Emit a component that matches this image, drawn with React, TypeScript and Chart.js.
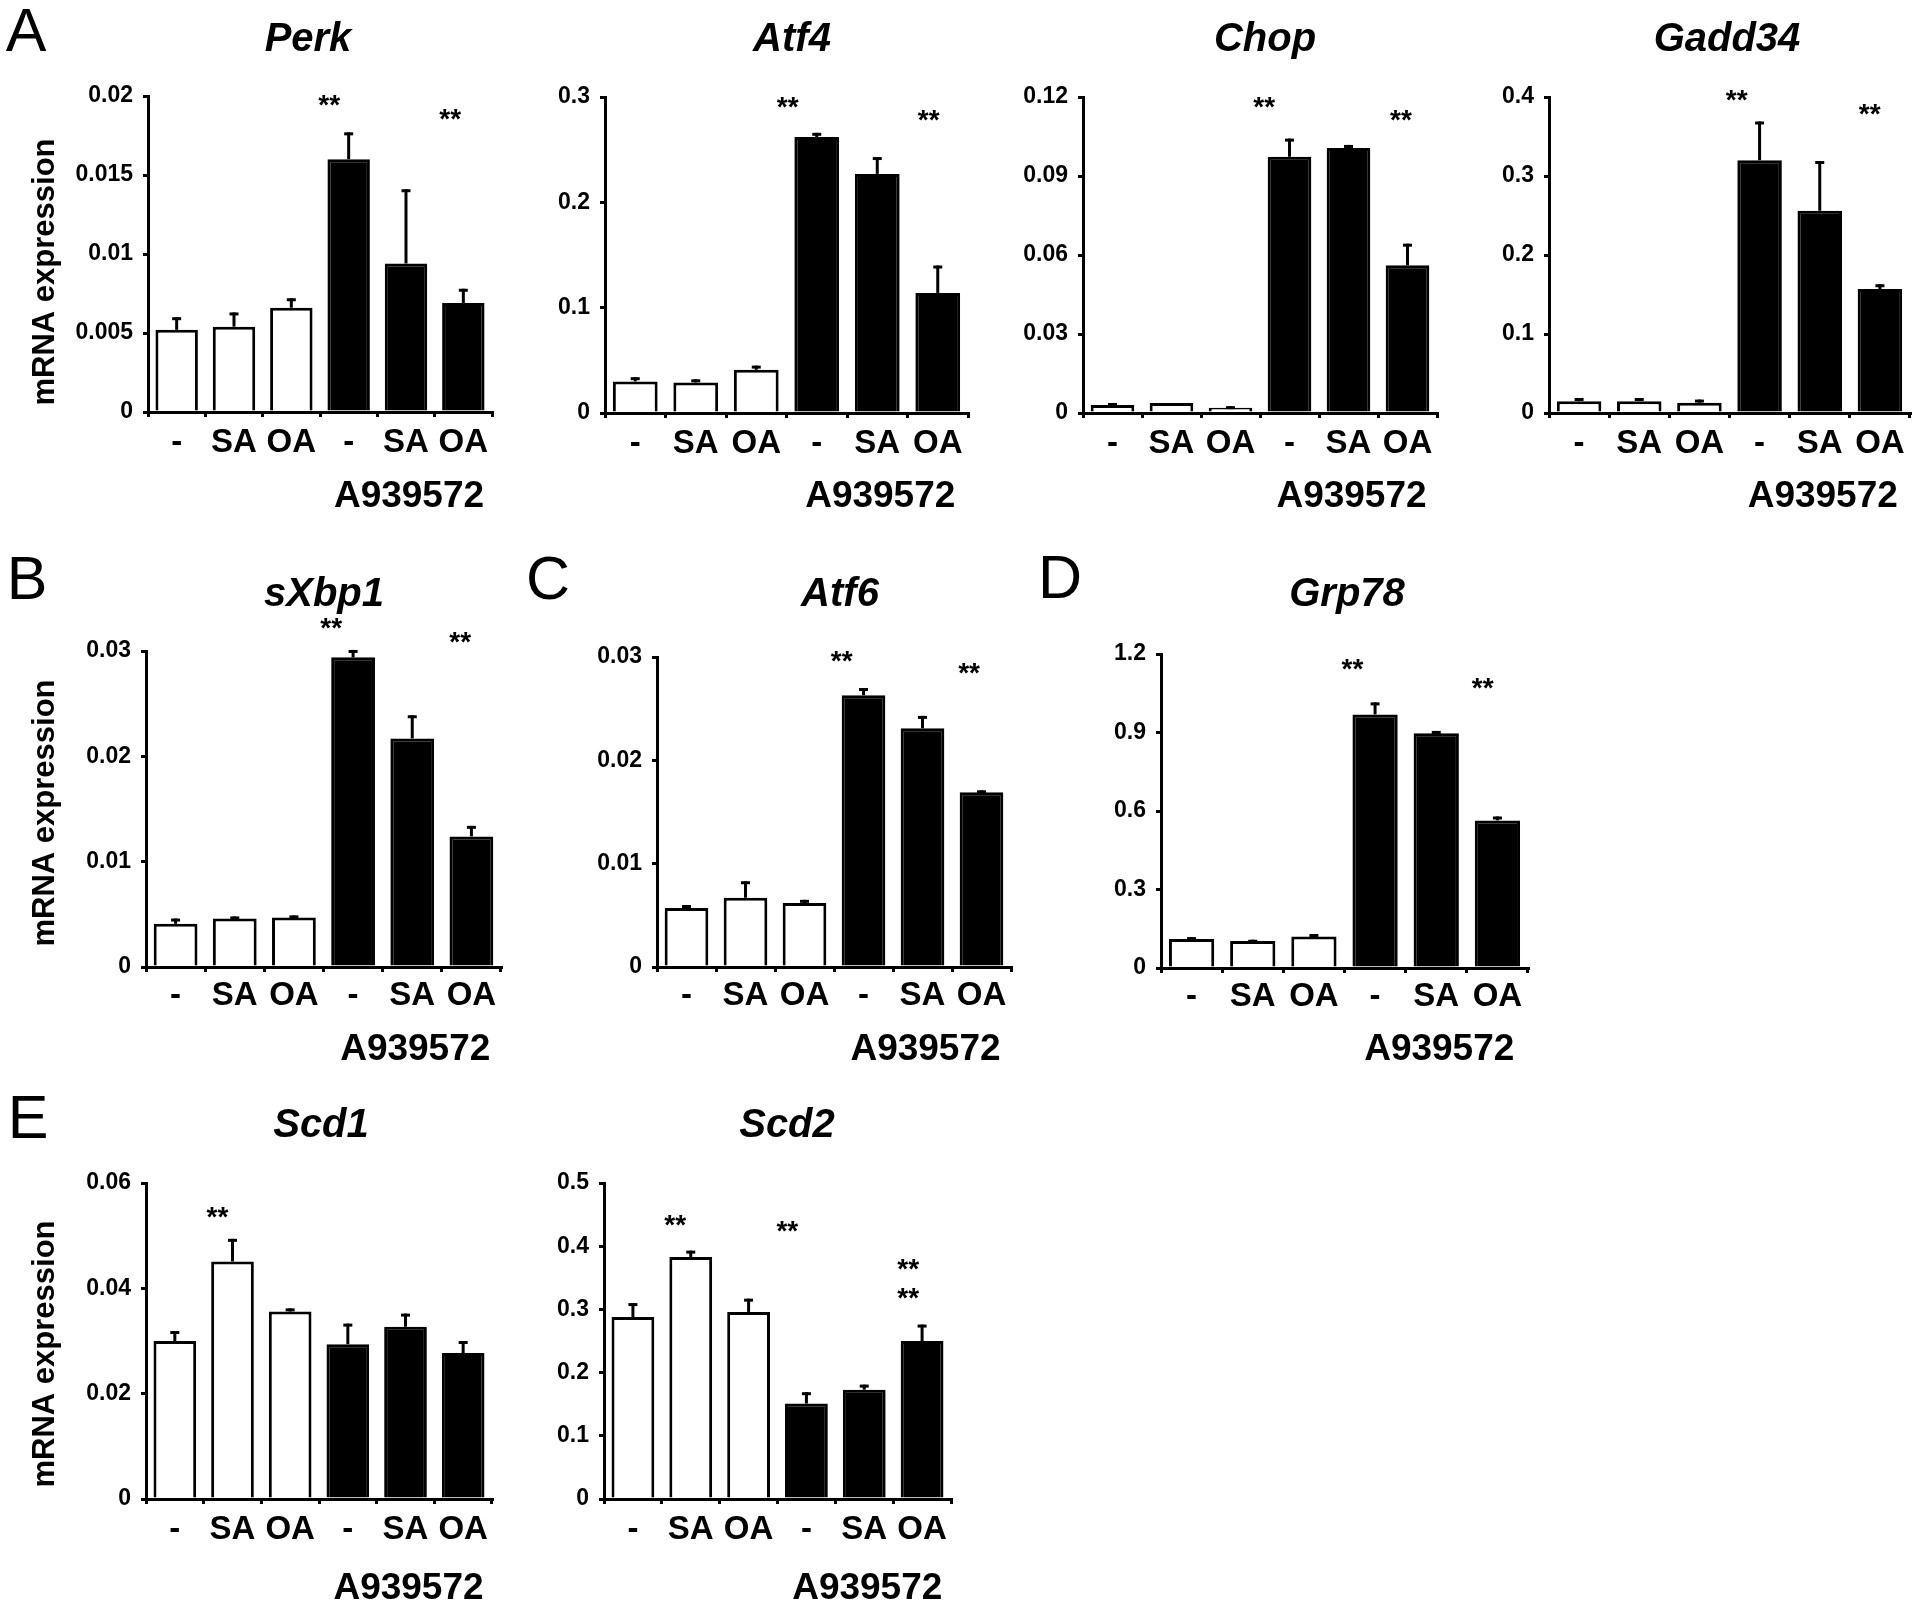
import React, { useEffect, useRef } from "react";
import { Chart, registerables } from "chart.js";
Chart.register(...registerables);

const FONT = '"Liberation Sans", Arial, Helvetica, sans-serif';

// ---------- shared categories ----------
const categories = ["-", "SA", "OA", "-", "SA", "OA"];
const groupLabel = "A939572";
const yAxisTitle = "mRNA expression";
const barColors = ["#ffffff", "#ffffff", "#ffffff", "#000000", "#000000", "#000000"];

// ---------- data (mean, SEM, tick labels, significance marks [category position, value]) ----------
const perkMean = [0.0052, 0.0054, 0.0066, 0.016, 0.0094, 0.0069];
const perkSem = [0.0008, 0.0009, 0.0006, 0.0017, 0.0047, 0.0009];
const perkTicks = ["0", "0.005", "0.01", "0.015", "0.02"];
const perkStars = [[2.66, 0.0199], [4.77, 0.019]];

const atf4Mean = [0.03, 0.029, 0.041, 0.262, 0.227, 0.114];
const atf4Sem = [0.004, 0.003, 0.004, 0.004, 0.016, 0.026];
const atf4Ticks = ["0", "0.1", "0.2", "0.3"];
const atf4Stars = [[2.52, 0.297], [4.85, 0.285]];

const chopMean = [0.003, 0.0038, 0.002, 0.0973, 0.1006, 0.0561];
const chopSem = [0.0008, 0, 0.0006, 0.0069, 0.0012, 0.0082];
const chopTicks = ["0", "0.03", "0.06", "0.09", "0.12"];
const chopStars = [[2.57, 0.119], [4.89, 0.114]];

const gadd34Mean = [0.015, 0.015, 0.013, 0.32, 0.256, 0.157];
const gadd34Sem = [0.004, 0.004, 0.004, 0.049, 0.063, 0.006];
const gadd34Ticks = ["0", "0.1", "0.2", "0.3", "0.4"];
const gadd34Stars = [[2.62, 0.405], [4.83, 0.388]];

const sxbp1Mean = [0.0041, 0.0046, 0.0047, 0.0294, 0.0217, 0.0124];
const sxbp1Sem = [0.0005, 0.0002, 0.0002, 0.0007, 0.0022, 0.001];
const sxbp1Ticks = ["0", "0.01", "0.02", "0.03"];
const sxbp1Stars = [[2.63, 0.0329], [4.81, 0.0315]];

const atf6Mean = [0.0057, 0.0067, 0.0062, 0.0263, 0.0231, 0.0169];
const atf6Sem = [0.0003, 0.0016, 0.0003, 0.0007, 0.0012, 0.0002];
const atf6Ticks = ["0", "0.01", "0.02", "0.03"];
const atf6Stars = [[2.63, 0.0303], [4.79, 0.0291]];

const grp78Mean = [0.111, 0.103, 0.12, 0.969, 0.897, 0.564];
const grp78Sem = [0.007, 0.005, 0.01, 0.046, 0.009, 0.015];
const grp78Ticks = ["0", "0.3", "0.6", "0.9", "1.2"];
const grp78Stars = [[2.63, 1.17], [4.76, 1.096]];

const scd1Mean = [0.03, 0.0451, 0.0356, 0.0294, 0.0327, 0.0277];
const scd1Sem = [0.0019, 0.0043, 0.0006, 0.0039, 0.0025, 0.0023];
const scd1Ticks = ["0", "0.02", "0.04", "0.06"];
const scd1Stars = [[0.74, 0.0549]];

const scd2Mean = [0.288, 0.383, 0.296, 0.151, 0.173, 0.25];
const scd2Sem = [0.022, 0.01, 0.021, 0.018, 0.008, 0.026];
const scd2Ticks = ["0", "0.1", "0.2", "0.3", "0.4", "0.5"];
const scd2Stars = [[0.73, 0.444], [2.67, 0.436], [4.76, 0.3755], [4.76, 0.33]];

// ---------- layout (page pixels) ----------
type Box = {
  L: number; R: number; T: number; B: number;
  titleX: number; titleY: number; groupY: number; tickPad: number; ylabelY?: number;
};

const panels = [
  { title: "Perk", mean: perkMean, sem: perkSem, ticks: perkTicks, stars: perkStars,
    box: { L: 148, R: 492, T: 96, B: 412, titleX: 308, titleY: 37, groupY: 494, tickPad: 6, ylabelY: 272 } },
  { title: "Atf4", mean: atf4Mean, sem: atf4Sem, ticks: atf4Ticks, stars: atf4Stars,
    box: { L: 605, R: 968, T: 97, B: 413, titleX: 792, titleY: 37, groupY: 494, tickPad: 6 } },
  { title: "Chop", mean: chopMean, sem: chopSem, ticks: chopTicks, stars: chopStars,
    box: { L: 1083, R: 1437, T: 97, B: 413, titleX: 1265, titleY: 37, groupY: 494, tickPad: 6 } },
  { title: "Gadd34", mean: gadd34Mean, sem: gadd34Sem, ticks: gadd34Ticks, stars: gadd34Stars,
    box: { L: 1549, R: 1910, T: 97, B: 413, titleX: 1727, titleY: 37, groupY: 494, tickPad: 6 } },
  { title: "sXbp1", mean: sxbp1Mean, sem: sxbp1Sem, ticks: sxbp1Ticks, stars: sxbp1Stars,
    box: { L: 146, R: 501, T: 651, B: 967, titleX: 324, titleY: 592, groupY: 1047, tickPad: 4, ylabelY: 813 } },
  { title: "Atf6", mean: atf6Mean, sem: atf6Sem, ticks: atf6Ticks, stars: atf6Stars,
    box: { L: 657, R: 1011, T: 657, B: 967, titleX: 840, titleY: 592, groupY: 1047, tickPad: 4 } },
  { title: "Grp78", mean: grp78Mean, sem: grp78Sem, ticks: grp78Ticks, stars: grp78Stars,
    box: { L: 1161, R: 1528, T: 654, B: 968, titleX: 1347, titleY: 592, groupY: 1047, tickPad: 4 } },
  { title: "Scd1", mean: scd1Mean, sem: scd1Sem, ticks: scd1Ticks, stars: scd1Stars,
    box: { L: 146, R: 492, T: 1183, B: 1499, titleX: 321, titleY: 1123, groupY: 1586, tickPad: 6, ylabelY: 1354 } },
  { title: "Scd2", mean: scd2Mean, sem: scd2Sem, ticks: scd2Ticks, stars: scd2Stars,
    box: { L: 604, R: 951, T: 1183, B: 1499, titleX: 787, titleY: 1123, groupY: 1586, tickPad: 6 } },
];

const panelLetters = [
  { text: "A", x: 26, y: 30 },
  { text: "B", x: 27, y: 578 },
  { text: "C", x: 548, y: 578 },
  { text: "D", x: 1060, y: 577 },
  { text: "E", x: 28, y: 1117 },
];

const YW = 100;
const XH = 60;

function BarPanel(props: {
  title: string; mean: number[]; sem: number[]; ticks: string[]; stars: number[][]; box: Box;
}) {
  const { title, mean, sem, ticks, stars, box } = props;
  const ref = useRef<HTMLCanvasElement | null>(null);
  const cx = box.L - 140;
  const cy = box.T - 95;
  const right = Math.min(box.R + 30, 1920);
  const cw = right - cx;
  const ch = box.B + 110 - cy;

  useEffect(() => {
    const yMax = parseFloat(ticks[ticks.length - 1]);
    const yStep = parseFloat(ticks[1]);

    const annot = {
      id: "annot",
      afterDatasetsDraw(chart: any) {
        const ctx = chart.ctx;
        const ys = chart.scales.y;
        const meta = chart.getDatasetMeta(0);
        ctx.save();
        ctx.strokeStyle = "#000";
        ctx.lineWidth = 3;
        ctx.lineCap = "butt";
        meta.data.forEach((bar: any, i: number) => {
          if (!sem[i]) return;
          const x = bar.x;
          const y0 = ys.getPixelForValue(mean[i]);
          const y1 = ys.getPixelForValue(mean[i] + sem[i]);
          ctx.beginPath();
          ctx.moveTo(x, y0);
          ctx.lineTo(x, y1);
          ctx.stroke();
          ctx.beginPath();
          ctx.moveTo(x - 4.5, y1 + 1.5);
          ctx.lineTo(x + 4.5, y1 + 1.5);
          ctx.stroke();
        });
        ctx.restore();
      },
      afterDraw(chart: any) {
        const ctx = chart.ctx;
        const xs = chart.scales.x;
        const ys = chart.scales.y;
        ctx.save();
        ctx.fillStyle = "#000";
        ctx.textBaseline = "alphabetic";
        ctx.textAlign = "center";
        // title
        ctx.font = `italic bold 40px ${FONT}`;
        ctx.fillText(title, box.titleX - cx, box.titleY - cy + 0.358 * 40);
        // group label
        ctx.font = `bold 37px ${FONT}`;
        ctx.fillText(groupLabel, xs.getPixelForValue(4) + 3, box.groupY - cy + 0.358 * 37);
        // significance
        ctx.font = `bold 28px ${FONT}`;
        stars.forEach(([pos, val]) => {
          ctx.fillText("**", xs.getPixelForValue(pos), ys.getPixelForValue(val) + 0.575 * 28);
        });
        // y axis title
        if (box.ylabelY !== undefined) {
          ctx.translate(43 - cx, box.ylabelY - cy);
          ctx.rotate(-Math.PI / 2);
          ctx.font = `bold 31px ${FONT}`;
          ctx.fillText(yAxisTitle, 0, 0.358 * 31);
        }
        ctx.restore();
      },
    };

    const chart = new Chart(ref.current as HTMLCanvasElement, {
      type: "bar",
      data: {
        labels: categories,
        datasets: [
          {
            data: mean,
            backgroundColor: barColors,
            borderColor: "#000000",
            borderWidth: 3,
            barPercentage: 0.74,
            categoryPercentage: 1,
          },
        ],
      },
      options: {
        animation: false,
        responsive: false,
        maintainAspectRatio: false,
        devicePixelRatio: 1,
        events: [],
        layout: {
          padding: {
            left: 140 - YW,
            top: box.T - cy,
            right: cx + cw - box.R,
            bottom: ch - (box.B - cy) - XH,
          },
        },
        plugins: {
          legend: { display: false },
          tooltip: { enabled: false },
          title: { display: false },
        },
        scales: {
          x: {
            type: "category",
            offset: true,
            grid: {
              display: true,
              drawOnChartArea: false,
              drawTicks: true,
              tickLength: 5,
              lineWidth: 3,
              color: "#000",
              offset: true,
            },
            border: { display: true, width: 3, color: "#000" },
            ticks: {
              color: "#000",
              font: { family: FONT, size: 33, weight: "bold" },
              padding: box.tickPad,
              maxRotation: 0,
              minRotation: 0,
              autoSkip: false,
            },
            afterFit: (s: any) => {
              s.height = XH;
            },
          },
          y: {
            min: 0,
            max: yMax,
            grid: {
              display: true,
              drawOnChartArea: false,
              drawTicks: true,
              tickLength: 5,
              lineWidth: 3,
              color: "#000",
            },
            border: { display: true, width: 3, color: "#000" },
            ticks: {
              stepSize: yStep,
              color: "#000",
              font: { family: FONT, size: 23, weight: "bold" },
              padding: 10,
              callback: (_v: any, i: number) => ticks[i],
            },
            afterFit: (s: any) => {
              s.width = YW;
            },
          },
        },
      } as any,
      plugins: [annot],
    });
    return () => chart.destroy();
  }, []);

  return (
    <canvas
      ref={ref}
      width={cw}
      height={ch}
      style={{ position: "absolute", left: cx, top: cy, width: cw, height: ch }}
    />
  );
}

export default function App() {
  return (
    <div
      style={{
        position: "absolute",
        left: 0,
        top: 0,
        width: 1920,
        height: 1604,
        overflow: "hidden",
        background: "#ffffff",
      }}
    >
      {panels.map((p) => (
        <BarPanel key={p.title} {...p} />
      ))}
      {panelLetters.map((l) => (
        <div
          key={l.text}
          style={{
            position: "absolute",
            left: l.x,
            top: l.y,
            transform: "translate(-50%, -50%)",
            fontFamily: FONT,
            fontSize: 61,
            lineHeight: 1,
            fontWeight: 400,
            color: "#000",
          }}
        >
          {l.text}
        </div>
      ))}
    </div>
  );
}
